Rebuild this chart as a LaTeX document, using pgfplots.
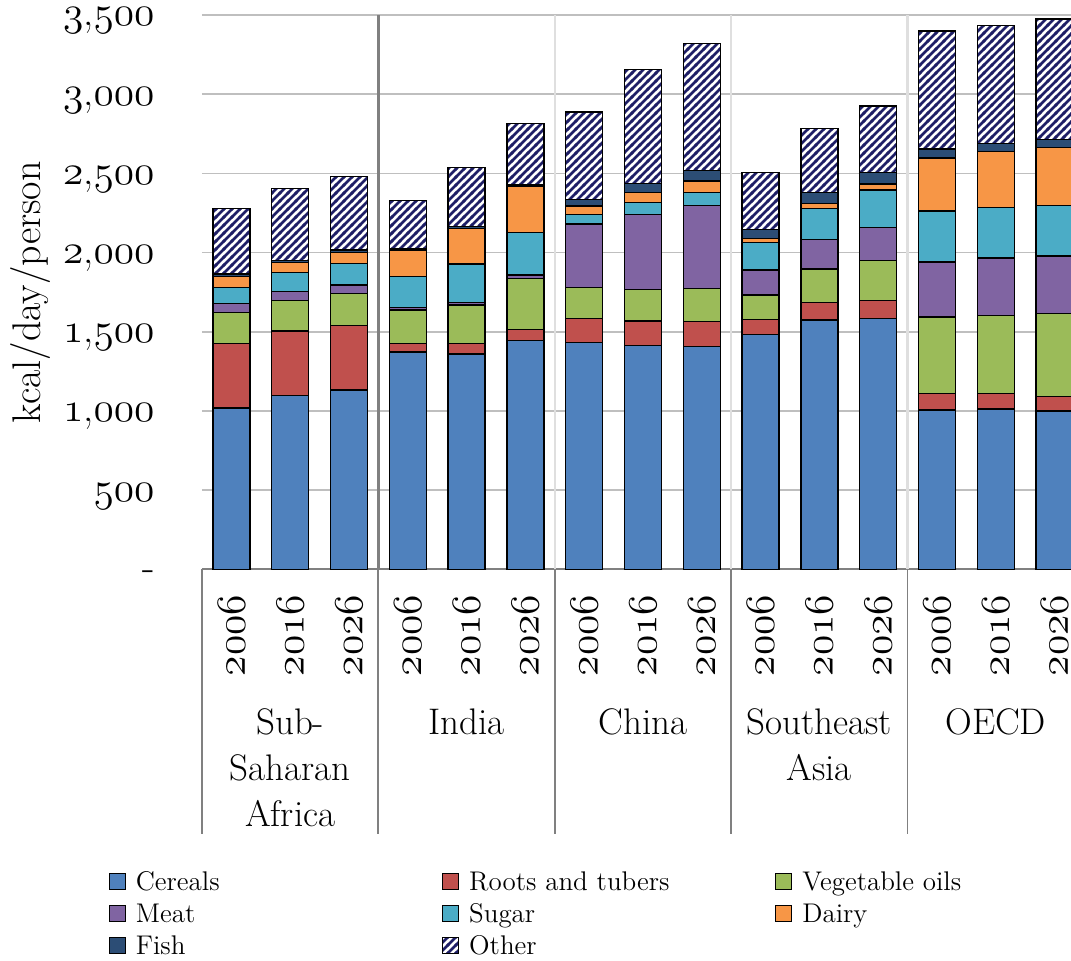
\documentclass[border=0pt]{standalone}
\usepackage{pgfplots}
\pgfplotsset{compat=1.18}
\usepackage{pgfplotstable}
\usetikzlibrary{patterns}

% old-style figures from Latin Modern math italic, always set in text mode
\DeclareRobustCommand\osf[1]{\mbox{\usefont{OML}{lmm}{m}{it}#1}}
\DeclareRobustCommand\osk[2]{\mbox{\osf{#1},\osf{#2}}}

% wide diagonal stripes
\pgfdeclarepatternformonly{widestripes}{\pgfqpoint{-1pt}{-1pt}}{\pgfqpoint{5pt}{5pt}}{\pgfqpoint{4pt}{4pt}}{
  \pgfsetlinewidth{1.4pt}
  \pgfpathmoveto{\pgfqpoint{-0.5pt}{-0.5pt}}
  \pgfpathlineto{\pgfqpoint{4.5pt}{4.5pt}}
  \pgfusepath{stroke}
}

\definecolor{cCer}{HTML}{4F81BD}
\definecolor{cRoo}{HTML}{C0504D}
\definecolor{cVeg}{HTML}{9BBB59}
\definecolor{cMea}{HTML}{8064A2}
\definecolor{cSug}{HTML}{4BACC6}
\definecolor{cDai}{HTML}{F79646}
\definecolor{cFis}{HTML}{2C4D75}
\definecolor{cOth}{HTML}{1E1E66}
\definecolor{gridgray}{HTML}{BFBFBF}
\definecolor{sepgray}{HTML}{808080}

% kcal/day/person by food group; rows: SSA, India, China, SE Asia, OECD (2006, 2016, 2026)
\pgfplotstableread{
x  cer  roo veg mea sug dai fis oth
0  1019 408 194 59  101 67  17  415
1  1097 408 192 56  120 63  14  453
2  1133 408 200 54  137 70  14  463
3  1373 54  211 17  193 164 11  305
4  1360 65  244 15  244 225 11  374
5  1444 72  322 21  269 292 9   387
6  1431 152 195 403 61  52  43  551
7  1415 153 198 476 73  63  59  720
8  1408 156 208 524 84  72  67  802
9  1484 95  153 158 175 25  57  360
10 1574 110 212 188 196 31  67  407
11 1585 114 252 206 238 38  71  421
12 1006 103 484 348 322 334 57  745
13 1013 96  495 362 320 351 53  743
14 1000 93  521 365 317 366 54  759
}\foodtable

\begin{document}
\begin{tikzpicture}
\begin{axis}[
  name=ax,
  scale only axis,
  width=434.5pt, height=277.2pt,
  ybar stacked,
  bar width=18.5pt,
  xmin=-0.5, xmax=14.28,
  ymin=0, ymax=3500,
  clip=false,
  axis lines=left,
  axis line style={draw=none},
  major tick length=0pt,
  ytick={0,500,...,3500},
  yticklabels={-,\osf{500},{\osk{1}{000}},{\osk{1}{500}},{\osk{2}{000}},{\osk{2}{500}},{\osk{3}{000}},{\osk{3}{500}}},
  yticklabel style={font=\fontsize{20.5}{24}\selectfont, inner sep=0pt, xshift=-23.5pt, yshift=-3pt},
  xtick={0,...,14},
  xticklabels={\osf{2006},\osf{2016},\osf{2026},\osf{2006},\osf{2016},\osf{2026},\osf{2006},\osf{2016},\osf{2026},\osf{2006},\osf{2016},\osf{2026},\osf{2006},\osf{2016},\osf{2026}},
  xticklabel style={font=\fontsize{19.5}{23}\selectfont, rotate=90, anchor=east, inner ysep=0pt, inner xsep=12.5pt},
  ymajorgrids,
  major grid style={gridgray, line width=0.8pt},
  ylabel={kcal/day/person},
  ylabel style={font=\fontsize{20}{24}\selectfont, at={(axis description cs:-0.197,0.5)}, anchor=center},
  every axis plot/.append style={draw=black, line width=0.65pt},
  legend columns=3,
  legend cell align=left,
  legend image code/.code={\draw[#1] (0pt,-4pt) rectangle (8pt,4pt);},
  legend style={draw=none, fill=none, inner sep=0pt,
    at={(axis description cs:-0.108,-0.5386)}, anchor=north west,
    font=\fontsize{13.5}{16}\selectfont,
    row sep=3pt,
    nodes={inner sep=0pt, text height=11pt, text depth=2pt},
    /tikz/every odd column/.append style={column sep=5pt}},
]
\addplot[fill=cCer] table[x=x,y=cer] {\foodtable};
\addplot[fill=cRoo] table[x=x,y=roo] {\foodtable};
\addplot[fill=cVeg] table[x=x,y=veg] {\foodtable};
\addplot[fill=cMea] table[x=x,y=mea] {\foodtable};
\addplot[fill=cSug] table[x=x,y=sug] {\foodtable};
\addplot[fill=cDai] table[x=x,y=dai] {\foodtable};
\addplot[fill=cFis] table[x=x,y=fis] {\foodtable};
\addplot[fill=white, postaction={pattern=widestripes, pattern color=cOth}] table[x=x,y=oth] {\foodtable};
\legend{\makebox[153pt][l]{Cereals},\makebox[153pt][l]{Roots and tubers},\makebox[153pt][l]{Vegetable oils},
        \makebox[153pt][l]{Meat},\makebox[153pt][l]{Sugar},\makebox[153pt][l]{Dairy},
        \makebox[153pt][l]{Fish},\makebox[153pt][l]{Other}}

% group separators inside the plot area
\draw[sepgray, line width=1.2pt] (axis cs:2.5,0) -- (axis cs:2.5,3500);
\draw[gray!25, line width=1.2pt] (axis cs:5.5,0) -- (axis cs:5.5,3500);
\draw[gray!25, line width=1.2pt] (axis cs:8.5,0) -- (axis cs:8.5,3500);
\draw[gray!25, line width=1.2pt] (axis cs:11.5,0) -- (axis cs:11.5,3500);
% category axis line and group boxes
\draw[sepgray, line width=0.9pt] (axis cs:-0.5,0) -- (axis cs:14.28,0);
\draw[sepgray, line width=0.9pt] (axis cs:-0.5,0) -- ++(0pt,-132.5pt);
\draw[sepgray, line width=0.9pt] (axis cs:2.5,0) -- ++(0pt,-132.5pt);
\draw[sepgray, line width=0.9pt] (axis cs:5.5,0) -- ++(0pt,-132.5pt);
\draw[sepgray, line width=0.9pt] (axis cs:8.5,0) -- ++(0pt,-132.5pt);
\draw[sepgray, line width=0.9pt] (axis cs:11.5,0) -- ++(0pt,-132.5pt);
\node[anchor=north, align=center, inner sep=0pt, yshift=-69.3pt, font=\fontsize{18.5}{23}\selectfont] at (axis cs:1,0) {Sub-\\Saharan\\Africa};
\node[anchor=north, align=center, inner sep=0pt, yshift=-69.3pt, font=\fontsize{18.5}{23}\selectfont] at (axis cs:4,0) {India};
\node[anchor=north, align=center, inner sep=0pt, yshift=-69.3pt, font=\fontsize{18.5}{23}\selectfont] at (axis cs:7,0) {China};
\node[anchor=north, align=center, inner sep=0pt, yshift=-69.3pt, font=\fontsize{18.5}{23}\selectfont] at (axis cs:10,0) {Southeast\\Asia};
\node[anchor=north, align=center, inner sep=0pt, yshift=-69.3pt, font=\fontsize{18.5}{23}\selectfont] at (axis cs:13,0) {OECD};
\end{axis}
\pgfresetboundingbox
\useasboundingbox ([xshift=-101pt,yshift=-195.8pt]ax.south west) rectangle ([yshift=7.5pt]ax.north east);
\end{tikzpicture}
\end{document}
